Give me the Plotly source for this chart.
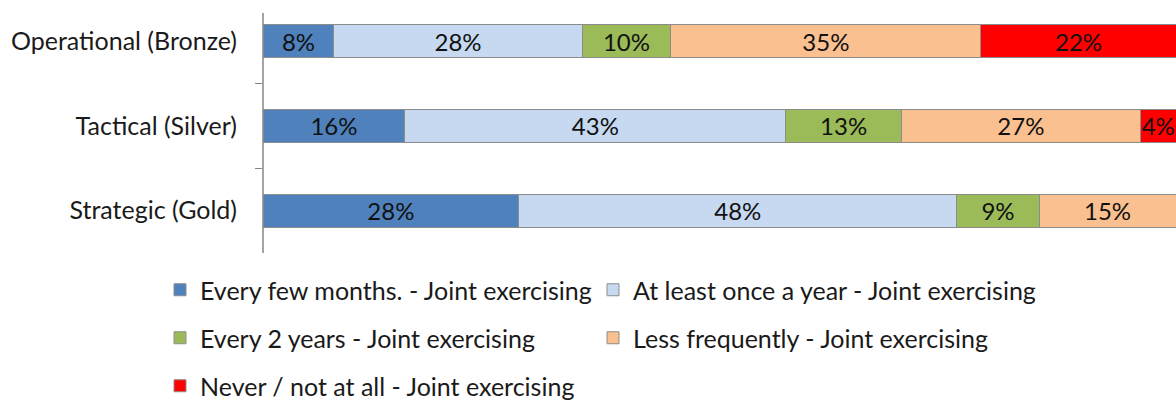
import plotly.graph_objects as go

categories = ["Operational (Bronze)", "Tactical (Silver)", "Strategic (Gold)"]
series_names = [
    "Every few months. - Joint exercising",
    "At least once a year - Joint exercising",
    "Every 2 years - Joint exercising",
    "Less frequently - Joint exercising",
    "Never / not at all - Joint exercising",
]
every_few_months = [8, 16, 28]
once_a_year = [28, 43, 48]
every_2_years = [10, 13, 9]
less_frequently = [35, 27, 15]
never = [22, 4, 0]

series_values = [every_few_months, once_a_year, every_2_years, less_frequently, never]
colors = ["#4F81BD", "#C6D9F1", "#9BBB59", "#FAC090", "#FF0000"]
legend_ids = ["legend", "legend2", "legend3", "legend4", "legend5"]
# legend item anchor positions in window pixels (left x, centre y)
legend_pos = [(160, 290), (593, 290), (160, 338), (593, 338), (160, 386)]

FONT = "Lato"
FS = 25
W, H = 1176, 401

fig = go.Figure()
for name, vals, col, lg in zip(series_names, series_values, colors, legend_ids):
    fig.add_trace(go.Bar(
        y=categories, x=vals, name=name, orientation="h",
        marker=dict(color=col, line=dict(color="#8C8C8C", width=1)),
        text=[f"{v}%" if v else "" for v in vals],
        textposition="inside", insidetextanchor="middle", textangle=0,
        textfont=dict(family=FONT, size=24, color="#111111"),
        width=0.39, legend=lg, showlegend=True, cliponaxis=True,
    ))

legend_common = dict(
    orientation="h", xref="container", yref="container",
    xanchor="left", yanchor="middle", visible=True,
    font=dict(family=FONT, size=FS, color="#1a1a1a"),
    bgcolor="rgba(0,0,0,0)", itemclick=False, itemdoubleclick=False,
)
legends = {}
for lg, (px, py) in zip(legend_ids, legend_pos):
    legends[lg] = dict(legend_common, x=px / W, y=1 - py / H)

fig.update_layout(
    showlegend=True,
    barmode="stack", barnorm="percent",
    width=W, height=H,
    margin=dict(l=263, r=0, t=0, b=H - 253, pad=0),
    paper_bgcolor="white", plot_bgcolor="white",
    font=dict(family=FONT, size=FS, color="#1a1a1a"),
    uniformtext=dict(minsize=24, mode="show"),
    xaxis=dict(range=[0, 100], visible=False, fixedrange=True),
    yaxis=dict(
        categoryorder="array", categoryarray=categories,
        range=[2.5, -0.488], fixedrange=True,
        showline=False, ticks="outside", ticklen=7, tickcolor="#868686",
        tickson="boundaries", ticklabelstandoff=25, showgrid=False,
        tickfont=dict(family=FONT, size=FS, color="#1a1a1a"),
    ),
    shapes=[dict(type="line", xref="paper", yref="paper", x0=0, x1=0,
                 y0=0, y1=1 - 13 / 253, line=dict(color="#868686", width=1.5))],
    **legends,
)

fig.write_html("out.html", config={"displayModeBar": False},
               post_script="document.body.style.margin='0';")
